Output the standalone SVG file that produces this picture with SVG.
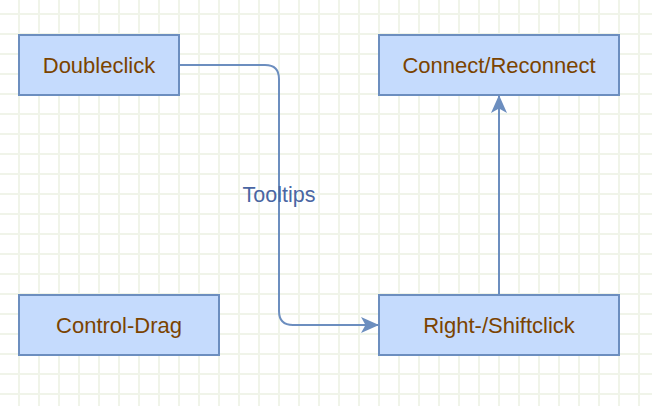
<svg xmlns="http://www.w3.org/2000/svg" width="652" height="406" viewBox="0 0 652 406">
<defs>
<pattern id="grid" x="0" y="0" width="20" height="20" patternUnits="userSpaceOnUse">
<path d="M19,0 V20 M0,14 H20" fill="none" stroke="#f0f4e9" stroke-width="2"/>
</pattern>
<marker id="arrow" markerUnits="userSpaceOnUse" viewBox="0 0 18 16" refX="18" refY="8" markerWidth="18" markerHeight="16" orient="auto">
<path d="M0,0 L18,8 L0,16 L4.5,8 Z" fill="#6c8ebf"/>
</marker>
</defs>
<style>
.node rect{fill:#c5dbfd;stroke:#6c8ebf;stroke-width:2}
.node text{font-family:"Liberation Sans",Arial,sans-serif;font-size:22px;fill:#7b4300;text-anchor:middle}
.edge{fill:none;stroke:#6c8ebf;stroke-width:2}
.label{font-family:"Liberation Sans",Arial,sans-serif;font-size:21.5px;fill:#4a66a3;text-anchor:middle}
</style>
<rect width="652" height="406" fill="#ffffff"/>
<rect width="652" height="406" fill="url(#grid)"/>
<g id="connectors">
<path class="edge" d="M179,65 H265 Q279,65 279,79 V311 Q279,325 293,325 H379" marker-end="url(#arrow)"/>
<path class="edge" d="M499,295 V95" marker-end="url(#arrow)"/>
<text class="label" x="279" y="202">Tooltips</text>
</g>
<g id="doubleclick" class="node">
<rect x="19" y="35" width="160" height="60"/>
<text x="99" y="72.5">Doubleclick</text>
</g>
<g id="connect-reconnect" class="node">
<rect x="379" y="35" width="240" height="60"/>
<text x="499" y="72.5">Connect/Reconnect</text>
</g>
<g id="control-drag" class="node">
<rect x="19" y="295" width="200" height="60"/>
<text x="119" y="332.5">Control-Drag</text>
</g>
<g id="right-shiftclick" class="node">
<rect x="379" y="295" width="240" height="60"/>
<text x="499" y="332.5">Right-/Shiftclick</text>
</g>
</svg>
